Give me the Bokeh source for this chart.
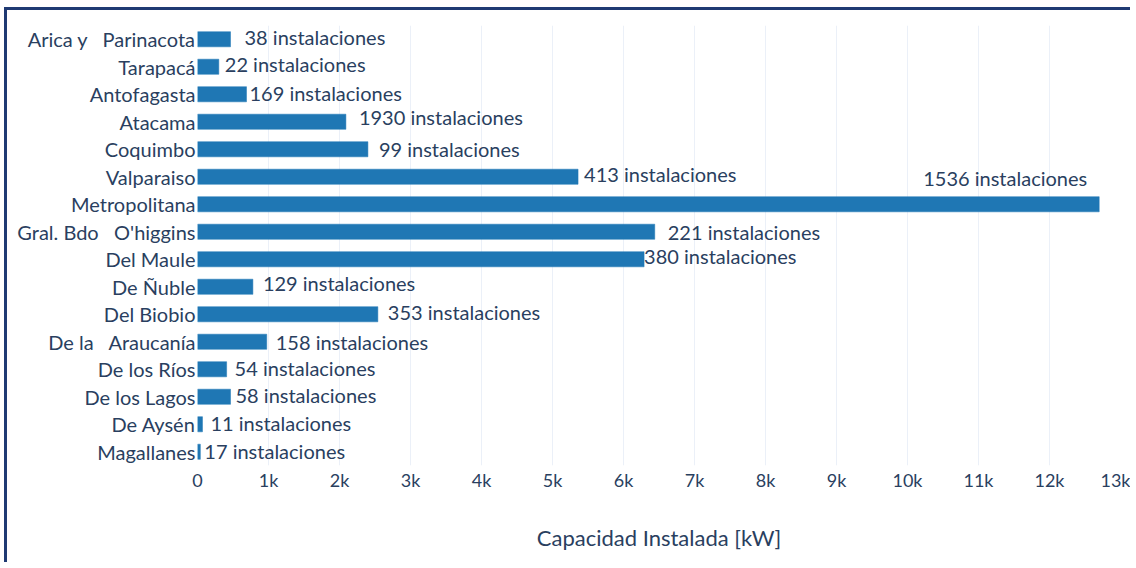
from bokeh.plotting import figure
from bokeh.models import ColumnDataSource, FactorRange, FixedTicker, CustomJSTickFormatter
from bokeh.core.properties import value
from bokeh.embed import file_html
from bokeh.resources import INLINE

NB = "\u00a0"
regions = [
    "Arica y" + NB * 3 + "Parinacota", "Tarapacá", "Antofagasta", "Atacama", "Coquimbo",
    "Valparaiso", "Metropolitana", "Gral. Bdo" + NB * 3 + "O'higgins", "Del Maule", "De Ñuble",
    "Del Biobio", "De la" + NB * 3 + "Araucanía", "De los Ríos", "De los Lagos", "De Aysén", "Magallanes",
]
capacity_kw = [465, 300, 690, 2090, 2400, 5360, 12700, 6440, 6290, 780,
               2540, 975, 410, 465, 70, 40]
installations = [38, 22, 169, 1930, 99, 413, 1536, 221, 380, 129,
                 353, 158, 54, 58, 11, 17]
x_ticks = list(range(0, 14000, 1000))

# label placement (screen px relative to bar end)
lab_dx = [14, 6, 3, 13, 11, 6, -12, 13, 0, 10, 10, 9, 8, 5, 8, 4]
lab_dy = [-2, -3, -1, -5, 0, -3, -26, 0, -3, -4, -2, 0, -1, -2, -1, -1]
lab_align = ["left"] * 6 + ["right"] + ["left"] * 9

FONT = "Lato"
TXT = "#2a3f5f"

src = ColumnDataSource(dict(
    region=regions, cap=capacity_kw,
    label=[f"{n} instalaciones" for n in installations],
    dx=lab_dx, dy=lab_dy, align=lab_align,
))

p = figure(width=1126, height=555, output_backend="svg", toolbar_location=None,
           y_range=FactorRange(factors=list(reversed(regions)), range_padding=0),
           x_range=(0, 13000),
           min_border_left=190, min_border_right=13, min_border_top=15, min_border_bottom=100)
p.styles = {"border-top": "3px solid #1f3a73", "border-left": "3px solid #1f3a73",
            "margin-top": "7px", "margin-left": "4px"}
p.outline_line_color = None
p.background_fill_color = "white"

p.hbar(y="region", right="cap", left=0, height=0.55, source=src,
       fill_color="#1f77b4", line_color="#1f77b4", line_width=0.5)

p.text(x="cap", y="region", text="label", source=src, x_offset="dx", y_offset="dy",
       text_align="align", text_baseline="middle",
       text_font=value(FONT), text_font_size="20px", text_color=TXT)

p.xaxis.ticker = FixedTicker(ticks=x_ticks)
p.xaxis.formatter = CustomJSTickFormatter(code="return tick == 0 ? '0' : (tick/1000) + 'k';")
p.xaxis.axis_line_color = None
p.xaxis.major_tick_line_color = None
p.xaxis.minor_tick_line_color = None
p.xaxis.major_label_standoff = -3
p.xaxis.major_label_text_font = FONT
p.xaxis.major_label_text_font_size = "18px"
p.xaxis.major_label_text_color = TXT
p.xaxis.axis_label = "Capacidad Instalada [kW]"
p.xaxis.axis_label_text_font = FONT
p.xaxis.axis_label_text_font_size = "22px"
p.xaxis.axis_label_text_font_style = "normal"
p.xaxis.axis_label_text_color = TXT
p.xaxis.axis_label_standoff = 30

p.yaxis.axis_line_color = None
p.yaxis.major_tick_line_color = None
p.yaxis.minor_tick_line_color = None
p.yaxis.major_label_standoff = -4
p.yaxis.major_label_text_font = FONT
p.yaxis.major_label_text_font_size = "20px"
p.yaxis.major_label_text_color = TXT

p.xgrid.grid_line_color = "#ebf0f8"
p.xgrid.grid_line_width = 1
p.ygrid.grid_line_color = None

open("out.html", "w").write(file_html(p, INLINE))
